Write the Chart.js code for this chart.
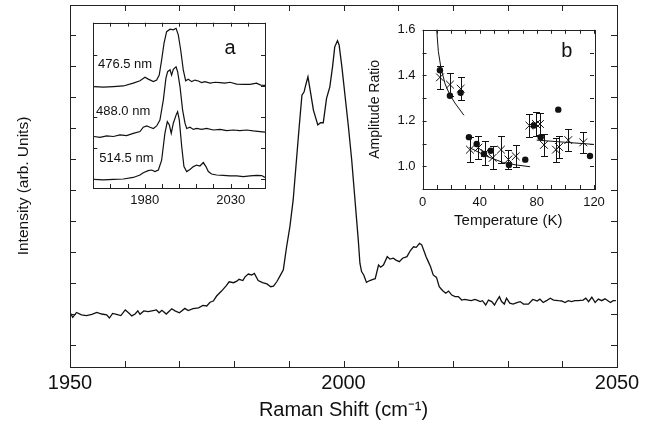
<!DOCTYPE html>
<html>
<head>
<meta charset="utf-8">
<script src="https://cdn.jsdelivr.net/npm/chart.js@4.4.1/dist/chart.umd.min.js"></script>
<style>
  html, body { margin: 0; padding: 0; background: #fff; }
  #wrap { position: relative; width: 650px; height: 429px; overflow: hidden; }
  canvas { position: absolute; }
</style>
</head>
<body>
<div id="wrap">
  <canvas id="mainChart" width="650" height="429" style="left:0;top:0"></canvas>
  <canvas id="insetA" width="190" height="205" style="left:85px;top:15px"></canvas>
  <canvas id="insetB" width="285" height="225" style="left:360px;top:15px"></canvas>
</div>
<script>
// -------------------- Main spectrum --------------------
const ramanShift = [
  1950.1,1950.5,1951.2,1952.1,1953.0,1954.0,1954.9,1955.8,1956.7,1957.2,
  1957.8,1958.5,1959.3,1960.1,1960.7,1961.3,1961.9,1962.4,1962.8,1963.5,
  1964.3,1965.2,1965.8,1966.3,1966.8,1967.6,1968.6,1969.2,1970.0,1971.0,
  1971.6,1972.5,1973.5,1974.3,1975.0,1975.6,1976.2,1976.8,1977.7,1978.5,
  1979.1,1979.9,1980.5,1980.9,1981.6,1982.0,1982.6,1983.2,1983.7,1984.4,
  1985.2,1986.0,1986.7,1987.2,1987.8,1988.4,1989.0,1989.6,1990.2,1990.8,
  1991.4,1991.9,1992.4,1992.8,1993.1,1993.5,1993.9,1994.5,1995.3,1995.8,
  1996.3,1996.9,1997.5,1998.0,1998.4,1998.9,1999.2,1999.7,2000.3,2000.9,
  2001.5,2002.1,2002.7,2003.0,2003.3,2003.7,2004.2,2004.8,2005.4,2005.8,
  2006.4,2006.8,2007.3,2008.0,2008.5,2009.1,2009.6,2010.2,2010.8,2011.6,
  2012.2,2012.8,2013.3,2013.9,2014.3,2014.7,2015.1,2015.5,2015.9,2016.4,
  2017.0,2017.5,2017.9,2018.2,2018.7,2019.2,2019.8,2020.4,2021.0,2021.6,
  2022.2,2022.8,2023.4,2024.0,2024.4,2025.0,2025.4,2026.0,2026.5,2027.1,
  2027.6,2028.1,2028.5,2028.9,2029.4,2029.8,2030.4,2031.0,2031.7,2032.3,
  2032.9,2033.8,2034.6,2035.0,2035.4,2035.9,2036.5,2037.1,2037.8,2038.4,
  2039.3,2039.9,2040.5,2041.1,2041.7,2042.3,2042.9,2043.8,2044.3,2044.8,
  2045.4,2046.0,2046.6,2047.2,2047.8,2048.4,2048.8,2049.3,2049.8
];
const intensity = [
  1.02,0.89,1.05,0.97,0.95,0.99,1.05,1.00,0.97,0.87,
  1.02,0.99,0.95,1.13,1.04,0.94,1.00,1.10,0.99,1.10,
  1.08,1.11,1.13,1.04,1.12,1.00,1.17,1.10,1.04,1.18,
  1.11,1.17,1.20,1.28,1.26,1.38,1.42,1.58,1.74,1.90,
  2.04,2.01,2.06,2.12,2.08,2.20,2.29,2.26,2.31,2.08,
  2.01,1.97,1.88,1.90,2.04,2.23,2.43,3.17,3.82,4.68,
  5.97,7.04,8.06,8.17,8.39,8.65,8.23,7.58,7.10,7.17,
  7.17,7.96,8.33,8.98,9.62,9.82,9.68,8.98,8.01,7.04,
  5.97,4.68,3.39,2.64,2.37,2.26,2.02,2.08,2.12,2.14,
  2.58,2.51,2.58,2.85,2.77,2.80,2.74,2.69,2.80,2.85,
  3.04,3.17,3.15,3.28,3.23,3.04,2.85,2.69,2.53,2.26,
  2.18,1.88,1.80,1.74,1.67,1.74,1.61,1.56,1.56,1.45,
  1.47,1.45,1.43,1.47,1.45,1.40,1.43,1.29,1.45,1.40,
  1.29,1.45,1.56,1.40,1.32,1.51,1.35,1.32,1.37,1.40,
  1.32,1.32,1.47,1.45,1.42,1.48,1.37,1.43,1.51,1.45,
  1.43,1.42,1.37,1.43,1.40,1.43,1.43,1.45,1.51,1.40,
  1.54,1.37,1.48,1.43,1.49,1.42,1.37,1.43,1.43
];
const mainXTicks = [1950,1960,1970,1980,1990,2000,2010,2020,2030,2040,2050];
const mainXLabels = [1950, 2000, 2050];
const mainYTicks = [0,1,2,3,4,5,6,7,8,9,10];

// -------------------- Inset a: excitation wavelengths --------------------
const trace476x = [1950.4,1955.8,1961.7,1967.5,1973.3,1977.2,1980.1,1982.0,1985.0,1986.9,1988.4,1989.8,1991.2,1992.7,1994.7,1996.6,1998.2,1999.5,2000.9,2002.4,2003.8,2005.3,2007.3,2009.2,2011.2,2013.1,2015.0,2018.0,2020.9,2023.8,2026.7,2029.6,2033.5,2037.4,2041.3,2045.1,2047.5,2050.0];
const trace476y = [2.98,2.96,2.98,3.00,3.09,3.17,3.28,3.22,3.14,3.19,3.35,3.84,4.38,4.75,4.83,4.81,4.86,4.65,4.16,3.52,3.17,3.22,3.14,3.19,3.16,3.11,3.14,3.09,3.12,3.11,3.09,3.12,3.06,3.05,3.05,3.09,3.03,3.02];
const trace488x = [1950.4,1953.9,1957.8,1961.7,1965.5,1969.4,1973.3,1977.2,1979.1,1981.1,1983.0,1985.0,1986.9,1988.8,1990.8,1992.3,1993.3,1994.7,1995.6,1996.6,1998.2,1999.1,2000.5,2002.0,2003.4,2004.4,2006.3,2008.3,2010.2,2013.1,2016.0,2019.9,2023.8,2027.7,2031.6,2035.4,2039.3,2043.2,2047.1,2050.0];
const trace488y = [1.37,1.34,1.39,1.37,1.42,1.40,1.47,1.53,1.67,1.71,1.67,1.63,1.71,1.90,2.55,3.25,3.46,3.52,3.35,3.54,3.62,3.46,2.98,2.23,1.80,1.63,1.67,1.60,1.63,1.60,1.63,1.58,1.60,1.56,1.58,1.56,1.58,1.55,1.53,1.51];
const trace514x = [1950.4,1955.8,1961.7,1967.5,1973.3,1977.2,1979.1,1982.0,1984.0,1985.9,1987.9,1989.8,1991.7,1993.1,1994.3,1995.4,1996.6,1998.2,1999.1,2000.1,2001.5,2002.8,2004.4,2006.3,2008.3,2010.2,2012.1,2014.1,2015.6,2017.0,2018.9,2021.8,2025.7,2029.6,2033.5,2037.4,2041.3,2045.1,2048.1,2050.0];
const trace514y = [-0.01,-0.03,-0.01,0.00,0.05,0.13,0.20,0.27,0.29,0.24,0.29,0.61,1.47,1.85,1.74,1.47,1.80,2.06,2.17,1.90,1.04,0.40,0.24,0.31,0.40,0.45,0.42,0.53,0.40,0.24,0.16,0.13,0.12,0.10,0.10,0.08,0.10,0.12,0.11,0.05];
const insetAXTicks = [1950,1960,1970,1980,1990,2000,2010,2020,2030,2040,2050];
const insetAXLabels = [1980, 2030];
const insetAYTicks = [0,1,2,3,4];

// -------------------- Inset b: amplitude ratio vs temperature --------------------
const circleTemps = [12.2,19.2,26.7,32.5,37.9,43.0,47.7,60.5,71.9,78.0,82.7,95.0,117.2];
const circleRatios = [1.422,1.310,1.323,1.128,1.098,1.054,1.068,1.006,1.029,1.179,1.128,1.249,1.045];
const crossTemps = [12.2,19.2,26.7,33.2,39.1,43.7,49.1,54.9,60.1,65.2,74.8,79.4,82.2,85.0,93.4,95.5,102.0,112.5];
const crossRatios = [1.391,1.359,1.341,1.073,1.082,1.058,1.037,1.073,1.030,1.044,1.179,1.186,1.186,1.094,1.073,1.085,1.115,1.105];
const crossErrors = [0.050,0.052,0.051,0.054,0.050,0.053,0.050,0.060,0.043,0.048,0.052,0.054,0.050,0.050,0.053,0.050,0.050,0.046];
const fitLowT = [9.9,11.1,12.9,15.8,19.2,22.7,29.0];
const fitLowR = [1.603,1.504,1.433,1.362,1.313,1.278,1.224];
const fitMidT = [32.8,44.9,56.6,66.3,75.2];
const fitMidR = [1.082,1.044,1.016,1.005,0.998];
const fitHighT = [79.9,120];
const fitHighR = [1.115,1.096];
const insetBXTicks = [0,10,20,30,40,50,60,70,80,90,100,110,120];
const insetBXLabels = [0, 40, 80, 120];
const insetBYTicks = [0.9,1.0,1.1,1.2,1.3,1.4,1.5,1.6];
const insetBYLabels = [1.0, 1.2, 1.4, 1.6];

const FONT = "'Liberation Sans', Arial, Helvetica, sans-serif";
const INK = '#111';
Chart.defaults.font.family = FONT;
Chart.defaults.color = INK;

const pairs = (xs, ys) => xs.map((v, i) => ({x: v, y: ys[i]}));

// frame around plot area with ticks pointing inward on all four sides
const framePlugin = {
  id: 'frame',
  beforeDraw(chart){
    const {ctx, chartArea: a} = chart;
    ctx.save();
    ctx.fillStyle = '#fff';
    ctx.fillRect(a.left, a.top, a.width, a.height);
    ctx.restore();
  },
  afterDatasetsDraw(chart, args, opts){
    const {ctx, chartArea: a, scales: {x, y}} = chart;
    const len = opts.len || 5;
    ctx.save();
    ctx.strokeStyle = '#222';
    ctx.lineWidth = 1;
    ctx.beginPath();
    x.ticks.forEach(t => {
      const p = Math.round(x.getPixelForValue(t.value)) + 0.5;
      ctx.moveTo(p, a.bottom); ctx.lineTo(p, a.bottom - len);
      ctx.moveTo(p, a.top); ctx.lineTo(p, a.top + len);
    });
    y.ticks.forEach(t => {
      const p = Math.round(y.getPixelForValue(t.value)) + 0.5;
      ctx.moveTo(a.left, p); ctx.lineTo(a.left + len, p);
      ctx.moveTo(a.right, p); ctx.lineTo(a.right - len, p);
    });
    ctx.stroke();
    ctx.strokeRect(Math.round(a.left) + 0.5, Math.round(a.top) + 0.5, Math.round(a.width), Math.round(a.height));
    ctx.restore();
  }
};

// vertical error bars with caps, for datasets carrying yErr
const errorBarPlugin = {
  id: 'errorBars',
  afterDatasetsDraw(chart, args, opts){
    const {ctx, scales: {x, y}} = chart;
    const cap = opts.cap || 3.5;
    ctx.save();
    ctx.strokeStyle = INK;
    ctx.lineWidth = 1;
    chart.data.datasets.forEach(ds => {
      if(!ds.yErr) return;
      ds.data.forEach((pt, i) => {
        const px = Math.round(x.getPixelForValue(pt.x)) + 0.5;
        const top = Math.round(y.getPixelForValue(pt.y + ds.yErr[i])) + 0.5;
        const bot = Math.round(y.getPixelForValue(pt.y - ds.yErr[i])) + 0.5;
        ctx.beginPath();
        ctx.moveTo(px, top); ctx.lineTo(px, bot);
        ctx.moveTo(px - cap, top); ctx.lineTo(px + cap, top);
        ctx.moveTo(px - cap, bot); ctx.lineTo(px + cap, bot);
        ctx.stroke();
      });
    });
    ctx.restore();
  }
};

// text annotations placed in data coordinates
const notesPlugin = {
  id: 'notes',
  afterDatasetsDraw(chart, args, opts){
    const {ctx, scales: {x, y}} = chart;
    ctx.save();
    ctx.fillStyle = INK;
    ctx.textBaseline = 'middle';
    (opts.items || []).forEach(n => {
      ctx.font = n.size + 'px ' + FONT;
      ctx.textAlign = n.align || 'left';
      ctx.fillText(n.text, x.getPixelForValue(n.x), y.getPixelForValue(n.y));
    });
    ctx.restore();
  }
};

const lineSet = (xs, ys, w) => ({
  data: pairs(xs, ys), showLine: true, pointRadius: 0,
  borderColor: INK, borderWidth: w || 1.2, tension: 0
});

const baseOptions = {
  responsive: false,
  animation: false,
  devicePixelRatio: 1,
  events: []
};

// -------------------- Main chart --------------------
new Chart(document.getElementById('mainChart'), {
  type: 'scatter',
  data: { datasets: [ lineSet(ramanShift, intensity, 1.3) ] },
  options: {
    ...baseOptions,
    layout: { padding: { left: 0, right: 33, top: 5, bottom: 0 } },
    plugins: { legend: { display: false }, tooltip: { enabled: false }, frame: { len: 6 } },
    scales: {
      x: {
        type: 'linear', min: 1950, max: 2050,
        grid: { display: false, drawTicks: false }, border: { display: false },
        afterBuildTicks: s => { s.ticks = mainXTicks.map(v => ({value: v})); },
        afterFit: s => { s.height = 62; },
        ticks: { autoSkip: false, maxRotation: 0, padding: 4, font: { size: 20 }, color: INK,
                 callback: v => mainXLabels.includes(v) ? String(v) : '' },
        title: { display: true, text: 'Raman Shift (cm⁻¹)', font: { size: 20 }, color: INK, padding: { top: 0, bottom: 7 } }
      },
      y: {
        type: 'linear', min: -0.71, max: 10.97,
        grid: { display: false, drawTicks: false }, border: { display: false },
        afterBuildTicks: s => { s.ticks = mainYTicks.map(v => ({value: v})); },
        afterFit: s => { s.width = 70; },
        ticks: { display: false },
        title: { display: true, text: 'Intensity (arb. Units)', font: { size: 15.5 }, color: INK, padding: { top: 14, bottom: 0 } }
      }
    }
  },
  plugins: [framePlugin]
});

// -------------------- Inset a --------------------
new Chart(document.getElementById('insetA'), {
  type: 'scatter',
  data: { datasets: [
    lineSet(trace476x, trace476y),
    lineSet(trace488x, trace488y),
    lineSet(trace514x, trace514y)
  ] },
  options: {
    ...baseOptions,
    layout: { padding: { left: 8.3, right: 10, top: 7.7, bottom: 7 } },
    plugins: {
      legend: { display: false }, tooltip: { enabled: false }, frame: { len: 4 },
      notes: { items: [
        { text: '476.5 nm', x: 1952.7, y: 3.71, size: 13 },
        { text: '488.0 nm', x: 1951.6, y: 2.17, size: 13 },
        { text: '514.5 nm', x: 1953.5, y: 0.67, size: 13 },
        { text: 'a', x: 2029.6, y: 4.22, size: 20, align: 'center' }
      ] }
    },
    scales: {
      x: {
        type: 'linear', min: 1950, max: 2050,
        grid: { display: false, drawTicks: false }, border: { display: false },
        afterBuildTicks: s => { s.ticks = insetAXTicks.map(v => ({value: v})); },
        afterFit: s => { s.height = 25; },
        ticks: { autoSkip: false, maxRotation: 0, padding: 5, font: { size: 13 }, color: INK,
                 callback: v => insetAXLabels.includes(v) ? String(v) : '' }
      },
      y: {
        type: 'linear', min: -0.29, max: 5.04, display: false,
        afterBuildTicks: s => { s.ticks = insetAYTicks.map(v => ({value: v})); }
      }
    }
  },
  plugins: [framePlugin, notesPlugin]
});

// -------------------- Inset b --------------------
new Chart(document.getElementById('insetB'), {
  type: 'scatter',
  data: { datasets: [
    lineSet(fitLowT, fitLowR, 1),
    lineSet(fitMidT, fitMidR, 1),
    lineSet(fitHighT, fitHighR, 1),
    { data: pairs(crossTemps, crossRatios), yErr: crossErrors, pointStyle: 'crossRot',
      pointRadius: 5.5, borderColor: INK, borderWidth: 1, backgroundColor: INK },
    { data: pairs(circleTemps, circleRatios), pointStyle: 'circle',
      pointRadius: 3.2, borderColor: INK, borderWidth: 0, backgroundColor: INK }
  ] },
  options: {
    ...baseOptions,
    layout: { padding: { left: 0, right: 51, top: 9, bottom: 6 } },
    plugins: {
      legend: { display: false }, tooltip: { enabled: false }, frame: { len: 4 },
      errorBars: { cap: 3.5 },
      notes: { items: [ { text: 'b', x: 100.9, y: 1.504, size: 20, align: 'center' } ] }
    },
    scales: {
      x: {
        type: 'linear', min: 0, max: 120,
        grid: { display: false, drawTicks: false }, border: { display: false },
        afterBuildTicks: s => { s.ticks = insetBXTicks.map(v => ({value: v})); },
        afterFit: s => { s.height = 45; },
        ticks: { autoSkip: false, maxRotation: 0, padding: 6, font: { size: 13 }, color: INK,
                 callback: v => insetBXLabels.includes(v) ? String(v) : '' },
        title: { display: true, text: 'Temperature (K)', font: { size: 15 }, color: INK, padding: { top: 0, bottom: 4 } }
      },
      y: {
        type: 'linear', min: 0.9, max: 1.6,
        grid: { display: false, drawTicks: false }, border: { display: false },
        afterBuildTicks: s => { s.ticks = insetBYTicks.map(v => ({value: v})); },
        afterFit: s => { s.width = 62.5; },
        ticks: { autoSkip: false, padding: 7, font: { size: 13 }, color: INK,
                 callback: v => insetBYLabels.includes(v) ? v.toFixed(1) : '' },
        title: { display: true, text: 'Amplitude Ratio', font: { size: 14 }, color: INK, padding: { top: 6.6, bottom: 0 } }
      }
    }
  },
  plugins: [framePlugin, errorBarPlugin, notesPlugin]
});
</script>
</body>
</html>
